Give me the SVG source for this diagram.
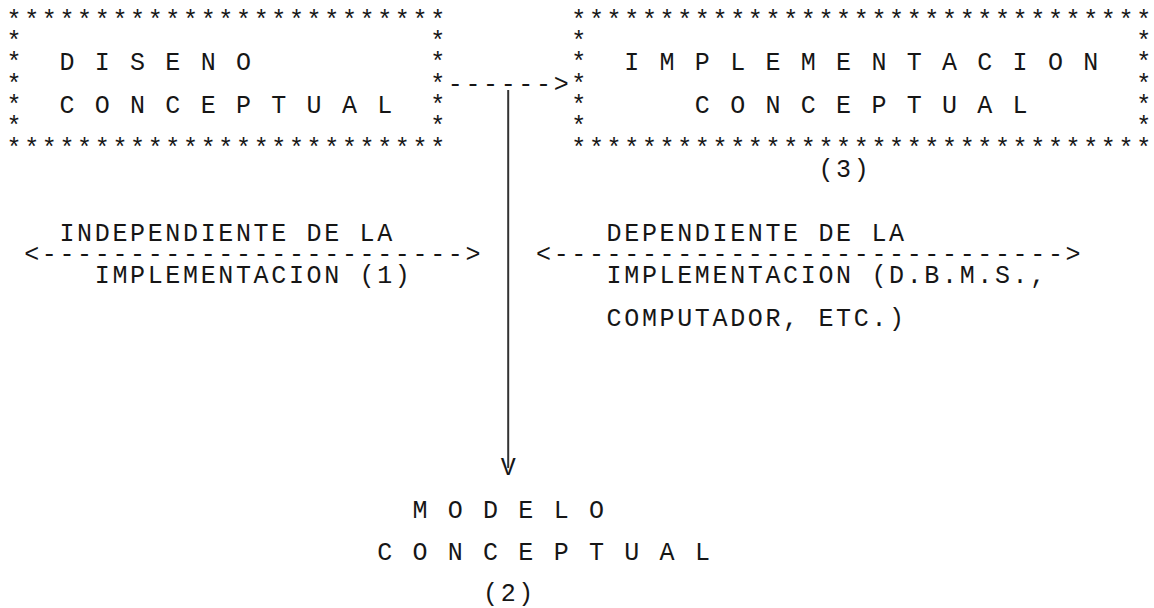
<svg xmlns="http://www.w3.org/2000/svg" width="1154" height="608" viewBox="0 0 1154 608" xml:space="preserve">
<style>
  text { font-family: "Liberation Mono", "Courier New", monospace; font-size: 25px; letter-spacing: 2.65px; fill: #161616; white-space: pre; }
  .vline { stroke: #333; stroke-width: 2; fill: none; }
</style>
<rect width="1154" height="608" fill="#ffffff"/>
<g id="node-diseno-conceptual">
  <text><tspan x="6.5" y="27.7">*************************</tspan><tspan x="6.5" y="49.0">*                       *</tspan><tspan x="6.5" y="70.3">*  D I S E N O          *</tspan><tspan x="6.5" y="91.6">*                       *</tspan><tspan x="6.5" y="112.9">*  C O N C E P T U A L  *</tspan><tspan x="6.5" y="134.2">*                       *</tspan><tspan x="6.5" y="155.5">*************************</tspan></text>
</g>
<g id="node-implementacion-conceptual">
  <text><tspan x="571.3" y="27.7">*********************************</tspan><tspan x="571.3" y="49.0">*                               *</tspan><tspan x="571.3" y="70.3">*  I M P L E M E N T A C I O N  *</tspan><tspan x="571.3" y="91.6">*                               *</tspan><tspan x="571.3" y="112.9">*      C O N C E P T U A L      *</tspan><tspan x="571.3" y="134.2">*                               *</tspan><tspan x="571.3" y="155.5">*********************************</tspan><tspan x="818.4" y="176.8">(3)</tspan></text>
</g>
<g id="node-modelo-conceptual">
  <text><tspan x="412.45" y="517.6">M O D E L O</tspan><tspan x="377.15" y="560.2">C O N C E P T U A L</tspan><tspan x="483.05" y="601">(2)</tspan></text>
</g>
<g id="connectors">
  <g id="edge-diseno-implementacion">
    <text x="447.75" y="91.6">------&gt;</text>
  </g>
  <g id="edge-independiente">
    <text><tspan x="59.45" y="240.7">INDEPENDIENTE DE LA</tspan><tspan x="24.15" y="262.0">&lt;------------------------&gt;</tspan><tspan x="94.75" y="283.3">IMPLEMENTACION (1)</tspan></text>
  </g>
  <g id="edge-dependiente">
    <text><tspan x="606.6" y="240.7">DEPENDIENTE DE LA</tspan><tspan x="536.0" y="262.0">&lt;-----------------------------&gt;</tspan><tspan x="606.6" y="283.3">IMPLEMENTACION (D.B.M.S.,</tspan><tspan x="606.6" y="325.9">COMPUTADOR, ETC.)</tspan></text>
  </g>
  <g id="edge-diseno-modelo">
    <line class="vline" x1="508.2" y1="90" x2="508.2" y2="468"/>
    <text x="500.7" y="475.0">V</text>
  </g>
</g>
</svg>
